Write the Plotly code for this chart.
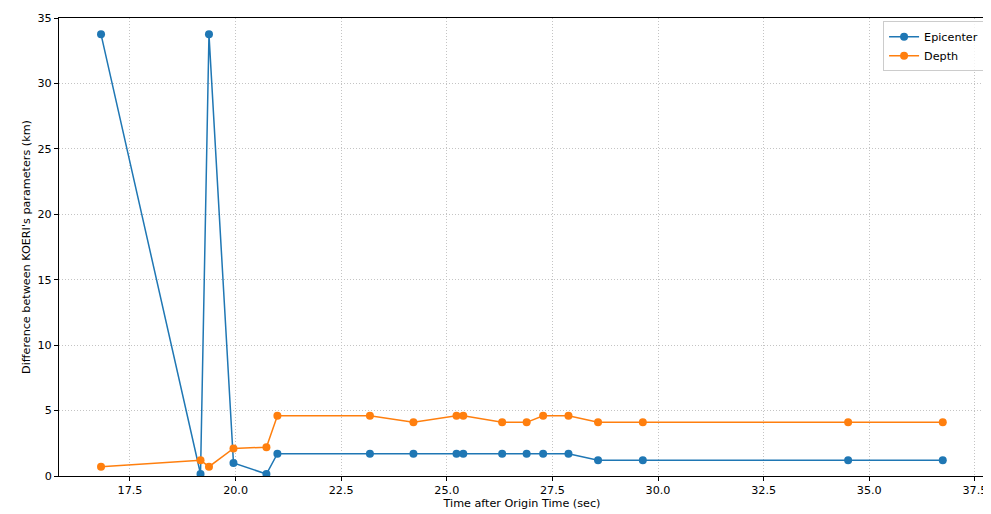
import plotly.graph_objects as go

time_sec = [16.815, 19.17, 19.37, 19.95, 20.73, 20.99, 23.18, 24.21, 25.23, 25.39,
            26.31, 26.89, 27.28, 27.88, 28.58, 29.64, 34.50, 36.74]
epicenter = [33.75, 0.15, 33.75, 1.0, 0.15, 1.7, 1.7, 1.7, 1.7, 1.7,
             1.7, 1.7, 1.7, 1.7, 1.2, 1.2, 1.2, 1.2]
depth = [0.71, 1.21, 0.71, 2.1, 2.2, 4.6, 4.6, 4.1, 4.6, 4.6,
         4.1, 4.1, 4.6, 4.6, 4.1, 4.1, 4.1, 4.1]

x_ticks = [17.5, 20.0, 22.5, 25.0, 27.5, 30.0, 32.5, 35.0, 37.5]
y_ticks = [0, 5, 10, 15, 20, 25, 30, 35]

FS = 11.2

fig = go.Figure()
fig.add_trace(go.Scatter(x=time_sec, y=epicenter, mode="lines+markers", name="Epicenter",
                         line=dict(color="#1f77b4", width=1.5),
                         marker=dict(color="#1f77b4", size=8)))
fig.add_trace(go.Scatter(x=time_sec, y=depth, mode="lines+markers", name="Depth",
                         line=dict(color="#ff7f0e", width=1.5),
                         marker=dict(color="#ff7f0e", size=8)))

axis_common = dict(showline=True, linecolor="black", linewidth=1, mirror=True,
                   ticks="outside", ticklen=4, tickcolor="black",
                   showgrid=True, gridcolor="#c4c4c4", griddash="1px,2px", gridwidth=0.8,
                   zeroline=False, tickfont=dict(size=FS, color="black"))

# page body has an ~8px margin; compensate so the plot area lands where the reference has it
fig.update_layout(
    width=983, height=506,
    margin=dict(l=51, r=4, t=7, b=38),
    paper_bgcolor="white", plot_bgcolor="white",
    font=dict(family="DejaVu Sans", size=FS, color="black"),
    xaxis=dict(range=[15.82, 37.74], tickvals=x_ticks,
               ticktext=[f"{v:.1f}" for v in x_ticks],
               title=dict(text="Time after Origin Time (sec)", font=dict(size=FS), standoff=2),
               **axis_common),
    yaxis=dict(range=[0, 35], tickvals=y_ticks,
               title=dict(text="Difference between KOERI's parameters (km)", font=dict(size=FS), standoff=4),
               **axis_common),
    legend=dict(x=0.999, y=0.993, xanchor="right", yanchor="top",
                bgcolor="rgba(255,255,255,0.8)", bordercolor="#cccccc", borderwidth=1,
                font=dict(size=FS), tracegroupgap=0, itemwidth=30),
)

fig.write_html("out.html")
